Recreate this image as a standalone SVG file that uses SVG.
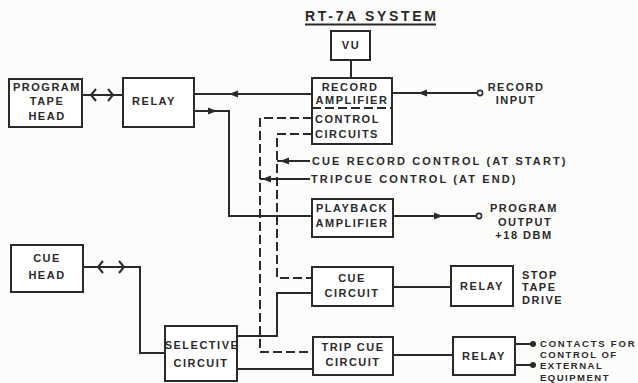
<svg xmlns="http://www.w3.org/2000/svg" width="638" height="383" viewBox="0 0 638 383">
<defs>
<style>
.bg{fill:#fcfcfa}
.box{fill:#fff;stroke:#2a2a2a;stroke-width:2}
.ln{fill:none;stroke:#2a2a2a;stroke-width:2}
.dash{fill:none;stroke:#2a2a2a;stroke-width:2;stroke-dasharray:9 4}
.ah{fill:#2a2a2a}
.oc{fill:#fff;stroke:#2a2a2a;stroke-width:1.6}
.t{font-family:"Liberation Sans",Arial,sans-serif;font-weight:bold;font-size:11px;letter-spacing:1.5px;fill:#2a2a2a}
.s{font-size:9.5px}
.m{text-anchor:middle}
.ti{font-family:"Liberation Sans",Arial,sans-serif;font-weight:bold;font-size:14px;fill:#2a2a2a}
</style>
</defs>
<rect class="bg" x="0" y="0" width="638" height="383"/>
<g id="title">
<text class="ti" x="305" y="21" textLength="131" lengthAdjust="spacing">RT-7A SYSTEM</text>
<path class="ln" d="M305 24.5H436" stroke-width="1.6"/>
</g>
<g id="connectors">
<path class="ln" d="M82 95H123"/>
<path class="ln" d="M96 89L91 95L96 101M108 89L113 95L108 101"/>
<path class="ln" d="M194 94H312"/>
<path class="ln" d="M392 93H477.5"/>
<path class="ln" d="M194 111H229V216H312"/>
<path class="ln" d="M393 216H476.5"/>
<path class="ln" d="M351 60V78"/>
<path class="ln" d="M83 267H140V353H165"/>
<path class="ln" d="M103 261L98 267L103 273M119 261L124 267L119 273"/>
<path class="ln" d="M237 336H277V293H312"/>
<path class="ln" d="M237 369H313"/>
<path class="ln" d="M393 287H451"/>
<path class="ln" d="M393 355H453"/>
<path class="ln" d="M515 344H532M515 365H532"/>
<path class="ln" d="M277 161H310"/>
<path class="ln" d="M260 179H310"/>
<path class="dash" d="M312 118H260V352H313"/>
<path class="dash" d="M312 134H277V278H312"/>
<polygon class="ah" points="229,94 238,90.5 238,97.5"/>
<polygon class="ah" points="217,111 208,107.5 208,114.5"/>
<polygon class="ah" points="418,93 427,89.5 427,96.5"/>
<polygon class="ah" points="443,216 434,212.5 434,219.5"/>
<polygon class="ah" points="280,161 289,157.5 289,164.5"/>
<polygon class="ah" points="262,179 271,175.5 271,182.5"/>
<circle class="oc" cx="480" cy="93" r="2.6"/>
<circle class="oc" cx="479" cy="216" r="2.6"/>
<circle class="ah" cx="533" cy="344" r="3"/>
<circle class="ah" cx="533" cy="365" r="3"/>
</g>
<g id="program-tape-head">
<rect class="box" x="9" y="79" width="73" height="48"/>
<text class="t m" x="47" y="91">PROGRAM</text>
<text class="t m" x="47" y="105">TAPE</text>
<text class="t m" x="47" y="120">HEAD</text>
</g>
<g id="relay-1">
<rect class="box" x="123" y="78" width="71" height="49"/>
<text class="t m" x="154" y="105">RELAY</text>
</g>
<g id="vu">
<rect class="box" x="331" y="31" width="39" height="29"/>
<text class="t m" x="351" y="49">VU</text>
</g>
<g id="record-amplifier">
<rect class="box" x="312" y="78" width="80" height="66"/>
<path class="dash" d="M312 108H392" stroke-dasharray="7 3"/>
<text class="t m" x="350" y="91">RECORD</text>
<text class="t m" x="352" y="104">AMPLIFIER</text>
<text class="t" x="315" y="123">CONTROL</text>
<text class="t" x="315" y="138">CIRCUITS</text>
</g>
<g id="record-input">
<text class="t m" x="516" y="91">RECORD</text>
<text class="t m" x="516" y="104">INPUT</text>
</g>
<g id="cue-record-control">
<text class="t" x="312" y="165" textLength="255" lengthAdjust="spacing">CUE RECORD CONTROL (AT START)</text>
</g>
<g id="tripcue-control">
<text class="t" x="311" y="183" textLength="206" lengthAdjust="spacing">TRIPCUE CONTROL (AT END)</text>
</g>
<g id="playback-amplifier">
<rect class="box" x="312" y="199" width="81" height="38"/>
<text class="t m" x="352" y="212">PLAYBACK</text>
<text class="t m" x="352" y="227">AMPLIFIER</text>
</g>
<g id="program-output">
<text class="t m" x="524" y="212">PROGRAM</text>
<text class="t m" x="525" y="226">OUTPUT</text>
<text class="t m" x="524" y="239">+18 DBM</text>
</g>
<g id="cue-head">
<rect class="box" x="11" y="245" width="72" height="47"/>
<text class="t m" x="47" y="262">CUE</text>
<text class="t m" x="47" y="279">HEAD</text>
</g>
<g id="cue-circuit">
<rect class="box" x="312" y="267" width="81" height="39"/>
<text class="t m" x="352" y="282">CUE</text>
<text class="t m" x="352" y="297">CIRCUIT</text>
</g>
<g id="relay-2">
<rect class="box" x="451" y="266" width="62" height="40"/>
<text class="t m" x="482" y="290">RELAY</text>
</g>
<g id="stop-tape-drive">
<text class="t" x="522" y="279">STOP</text>
<text class="t" x="522" y="291">TAPE</text>
<text class="t" x="522" y="304">DRIVE</text>
</g>
<g id="selective-circuit">
<rect class="box" x="165" y="326" width="72" height="55"/>
<text class="t m" x="202" y="349" letter-spacing="0.3">SELECTIVE</text>
<text class="t m" x="201" y="367">CIRCUIT</text>
</g>
<g id="trip-cue-circuit">
<rect class="box" x="313" y="337" width="80" height="38"/>
<text class="t m" x="353" y="351">TRIP CUE</text>
<text class="t m" x="353" y="366">CIRCUIT</text>
</g>
<g id="relay-3">
<rect class="box" x="453" y="337" width="62" height="38"/>
<text class="t m" x="484" y="360">RELAY</text>
</g>
<g id="contacts">
<text class="t s" x="540" y="347" textLength="96" lengthAdjust="spacing">CONTACTS FOR</text>
<text class="t s" x="540" y="358">CONTROL OF</text>
<text class="t s" x="540" y="369">EXTERNAL</text>
<text class="t s" x="540" y="380.5">EQUIPMENT</text>
</g>
</svg>
